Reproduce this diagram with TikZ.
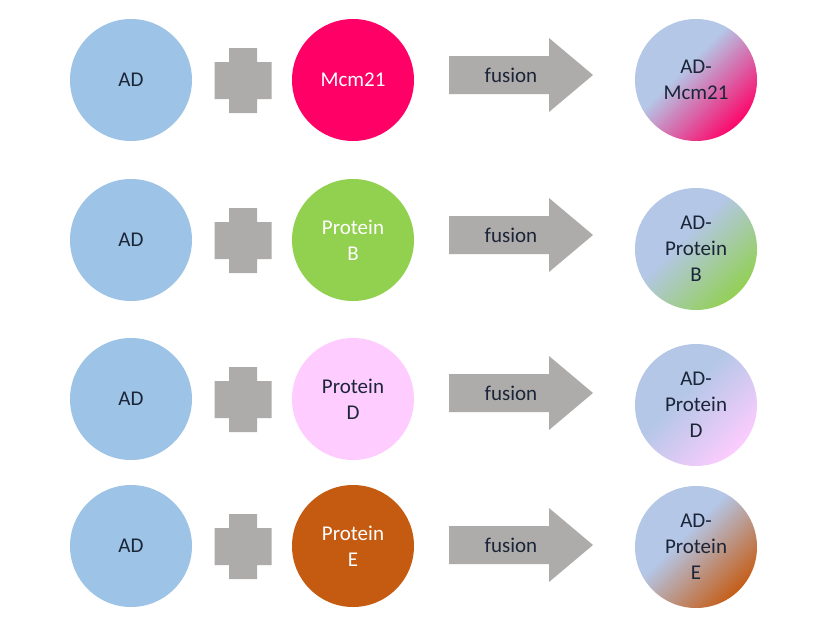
\documentclass[tikz,border=0pt]{standalone}
\usepackage{fontspec}
\setmainfont{Carlito}
\usetikzlibrary{calc}
\definecolor{adblue}{HTML}{9DC3E6}
\definecolor{fuseblue}{HTML}{B4C7E7}
\definecolor{mcmpink}{HTML}{FF0066}
\definecolor{protgreen}{HTML}{92D050}
\definecolor{protlilac}{HTML}{FFCCFF}
\definecolor{protorange}{HTML}{C55A11}
\definecolor{signgrey}{HTML}{AEABAB}
\definecolor{labeltext}{HTML}{1B2538}
\colorlet{fusetarget}{mcmpink}
\pgfdeclarehorizontalshading[fuseblue,fusetarget]{fuseshade}{100bp}{
    color(0bp)=(fuseblue); color(43bp)=(fuseblue);
    color(76bp)=(fusetarget); color(100bp)=(fusetarget)}
\tikzset{
    blob/.style={circle,inner sep=0pt,minimum size=122pt,align=center,
        font=\fontsize{21}{26}\selectfont},
    fuseblob/.style={blob,shading=fuseshade,shading angle=-45,text=labeltext},
    arrowtext/.style={font=\fontsize{21}{26}\selectfont,text=labeltext}
}

\begin{document}
\begin{tikzpicture}[x=1pt,y=-1pt]
            \useasboundingbox (0,0) rectangle (819,638);
            \foreach \n/\y/\ya/\yf/\col/\tcol/\ptxt/\ftxt in {
                    1/80/75/80/mcmpink/white/Mcm21/AD-\\Mcm21,
                    2/240/235/249/protgreen/white/Protein\\B/AD-\\Protein\\B,
                    3/399/393/405/protlilac/labeltext/Protein\\D/AD-\\Protein\\D,
                    4/546/545/547/protorange/white/Protein\\E/AD-\\Protein\\E}{
                \node[blob,fill=adblue,text=labeltext] (ad\n) at (131,\y) {AD};
                \fill[signgrey,shift={(243,\y)}] (-14,-32) rectangle (14,33)
                    (-28.5,-18) rectangle (28.5,19);
                \node[blob,fill=\col,text=\tcol] (prot\n) at (353,\y) {\ptxt};
                \fill[signgrey,shift={(449,\ya)}] (0,-19) -- (100,-19) -- (100,-37)
                    -- (144,0) -- (100,37) -- (100,19) -- (0,19) -- cycle;
                \node[arrowtext] (fus\n) at (511,\ya) {fusion};
                \colorlet{fusetarget}{\col}
                \node[fuseblob] (fuse\n) at (696,\yf) {\ftxt};
            }
        \end{tikzpicture}
\end{document}
